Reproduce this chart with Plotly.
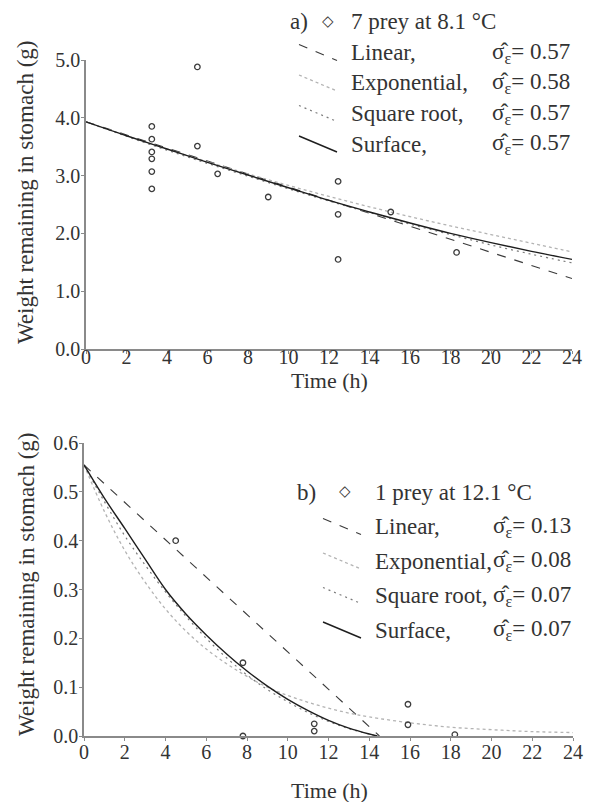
# -*- coding: utf-8 -*-
"""
Esvaziamento gástrico: peso remanescente no estômago vs tempo,
dois painéis (a: 7 presas a 8.1 °C, b: 1 presa a 12.1 °C) com 4 modelos.
"""

import plotly.graph_objects as go

W, H = 594, 802
OFF = 8  # margem padrão do <body> da página
FONTE = "Liberation Serif"
COR_TXT = "#333333"
COR_EIXO = "#8a8a8a"

# ---------------- painel a) 7 prey at 8.1 °C ----------------
T_OBS_A = [3.25, 3.25, 3.25, 3.25, 3.25, 3.25, 5.5, 5.5, 6.5, 9.0, 12.45, 12.45, 12.45, 15.05, 18.3]
W_OBS_A = [3.85, 3.63, 3.41, 3.29, 3.07, 2.77, 4.88, 3.51, 3.03, 2.63, 2.90, 2.33, 1.55, 2.37, 1.67]

T_LIN_A = [0, 24]
W_LIN_A = [3.93, 1.22]

T_CURVA_A = [0, 2, 4, 6, 8, 10, 12, 14, 16, 18, 20, 22, 24]
W_EXP_A = [3.93, 3.69, 3.46, 3.24, 3.03, 2.83, 2.64, 2.46, 2.29, 2.13, 1.98, 1.83, 1.68]
W_RAIZ_A = [3.93, 3.68, 3.44, 3.21, 2.99, 2.77, 2.56, 2.36, 2.16, 1.98, 1.80, 1.64, 1.49]
W_SUP_A = [3.93, 3.69, 3.46, 3.23, 3.01, 2.79, 2.57, 2.37, 2.18, 2.00, 1.84, 1.69, 1.55]

SIGMA_A = ["0.57", "0.58", "0.57", "0.57"]

# ---------------- painel b) 1 prey at 12.1 °C ----------------
T_OBS_B = [4.5, 7.8, 7.8, 11.3, 11.3, 15.9, 15.9, 18.2]
W_OBS_B = [0.40, 0.15, 0.0, 0.025, 0.010, 0.065, 0.023, 0.003]

T_LIN_B = [0, 14.5]
W_LIN_B = [0.555, 0.0]

T_EXP_B = [0, 1, 2, 3, 4, 5, 6, 7, 8, 9, 10, 11, 12, 13, 14, 16, 18, 20, 22, 24]
W_EXP_B = [0.555, 0.46, 0.38, 0.315, 0.26, 0.215, 0.178, 0.148, 0.122, 0.10,
           0.083, 0.069, 0.057, 0.047, 0.039, 0.027, 0.018, 0.013, 0.009, 0.007]

T_CURVA_B = [0, 1, 2, 3, 4, 5, 6, 7, 8, 9, 10, 11, 12, 13, 14, 14.4]
W_RAIZ_B = [0.555, 0.48, 0.41, 0.35, 0.295, 0.245, 0.20, 0.16, 0.125, 0.095,
            0.07, 0.048, 0.03, 0.015, 0.004, 0.0]
W_SUP_B = [0.555, 0.487, 0.425, 0.362, 0.300, 0.250, 0.207, 0.168, 0.133, 0.102,
           0.075, 0.052, 0.032, 0.016, 0.004, 0.0]

SIGMA_B = ["0.13", "0.08", "0.07", "0.07"]

MODELOS = ["Linear,", "Exponential,", "Square root,", "Surface,"]
X_TICKS = [0, 2, 4, 6, 8, 10, 12, 14, 16, 18, 20, 22, 24]

# estilos de linha dos modelos (linear, exp, raiz, superfície)
ESTILOS = [
    dict(color="#3a3a3a", width=1.1, dash="dash"),
    dict(color="#b3b3b3", width=1.3, dash="dot"),
    dict(color="#7a7a7a", width=1.2, dash="2px,4px"),
    dict(color="#1e1e1e", width=1.4, dash="solid"),
]

FW, FH = W - OFF, H - OFF


def px(x):
    return (x - OFF) / FW


def py(y):
    return 1 - (y - OFF) / FH


fig = go.Figure()


def painel(xa, ya, t_obs, w_obs, curvas):
    for (t, w), est in zip(curvas, ESTILOS):
        fig.add_trace(go.Scatter(x=t, y=w, mode="lines", line=dict(**est, shape="spline"),
                                 xaxis=xa, yaxis=ya, showlegend=False, hoverinfo="skip"))
    fig.add_trace(go.Scatter(x=t_obs, y=w_obs, mode="markers", xaxis=xa, yaxis=ya,
                             marker=dict(symbol="circle-open", size=5.5, color="#3c3c3c",
                                         line=dict(width=1.3)),
                             showlegend=False, cliponaxis=False))


painel("x", "y", T_OBS_A, W_OBS_A,
       [(T_LIN_A, W_LIN_A), (T_CURVA_A, W_EXP_A), (T_CURVA_A, W_RAIZ_A), (T_CURVA_A, W_SUP_A)])
painel("x2", "y2", T_OBS_B, W_OBS_B,
       [(T_LIN_B, W_LIN_B), (T_EXP_B, W_EXP_B), (T_CURVA_B, W_RAIZ_B), (T_CURVA_B, W_SUP_B)])

eixo_x = dict(range=[0, 24], tickvals=X_TICKS, showgrid=False, zeroline=False, automargin=False,
              showline=True, linecolor=COR_EIXO, linewidth=1.5,
              ticks="outside", ticklen=3, tickcolor=COR_EIXO,
              tickfont=dict(family=FONTE, size=20, color=COR_TXT))
eixo_y = dict(showgrid=False, zeroline=False, automargin=False,
              showline=True, linecolor=COR_EIXO, linewidth=1.5,
              ticks="outside", ticklen=3, tickcolor=COR_EIXO, tickformat=".1f",
              ticklabelstandoff=-3,
              tickfont=dict(family=FONTE, size=20, color=COR_TXT))

fig.update_layout(
    width=FW, height=FH,
    margin=dict(l=0, r=0, t=0, b=0, autoexpand=False),
    paper_bgcolor="white", plot_bgcolor="white",
    showlegend=False,
    xaxis=dict(**eixo_x, domain=[px(86), px(572)], anchor="y", ticklabelstandoff=-14),
    yaxis=dict(**eixo_y, domain=[py(349), py(60)], range=[0, 5], dtick=1, anchor="x"),
    xaxis2=dict(**eixo_x, domain=[px(84), px(573)], anchor="y2", ticklabelstandoff=-6),
    yaxis2=dict(**eixo_y, domain=[py(736), py(443)], range=[0, 0.6], dtick=0.1, anchor="x2"),
)

anot = []
shapes = []


def texto(x, y, s, size=23, xanchor="left", angle=0, fam=FONTE):
    anot.append(dict(x=px(x), y=py(y), xref="paper", yref="paper", text=s, showarrow=False,
                     xanchor=xanchor, yanchor="middle", textangle=angle,
                     font=dict(family=fam, size=size, color=COR_TXT)))


# títulos dos eixos
texto(26, 193, "Weight remaining in stomach (g)", size=23, xanchor="center", angle=-90)
texto(26, 585, "Weight remaining in stomach (g)", size=23, xanchor="center", angle=-90)
texto(329, 380, "Time (h)", size=22, xanchor="center")
texto(329, 790, "Time (h)", size=22, xanchor="center")


def legenda(rotulo, cabecalho, sigmas, x_rot, x_simb, x_txt, x_sig, y0, dy):
    texto(x_rot, y0, rotulo)
    texto(x_simb, y0 - 1, "◇", size=15, xanchor="center", fam="DejaVu Sans")
    texto(x_txt, y0, cabecalho)
    for i, (nome, sig, est) in enumerate(zip(MODELOS, sigmas, ESTILOS)):
        yl = y0 + dy * (i + 1)
        texto(x_txt, yl, nome)
        texto(x_sig, yl, "σ̂<sub>ε</sub>= " + sig)
        shapes.append(dict(type="line", xref="paper", yref="paper",
                           x0=px(x_txt - 50), y0=py(yl - 8), x1=px(x_txt - 12), y1=py(yl + 8),
                           line=dict(color=est["color"], width=est["width"], dash=est["dash"])))


legenda("a)", "7 prey at 8.1 °C", SIGMA_A, 288, 328, 349, 490, 22, 30.5)
legenda("b)", "1 prey at 12.1 °C", SIGMA_B, 295, 345, 373, 491, 492, 34.5)

fig.update_layout(annotations=anot, shapes=shapes)

fig.write_html("out.html")
